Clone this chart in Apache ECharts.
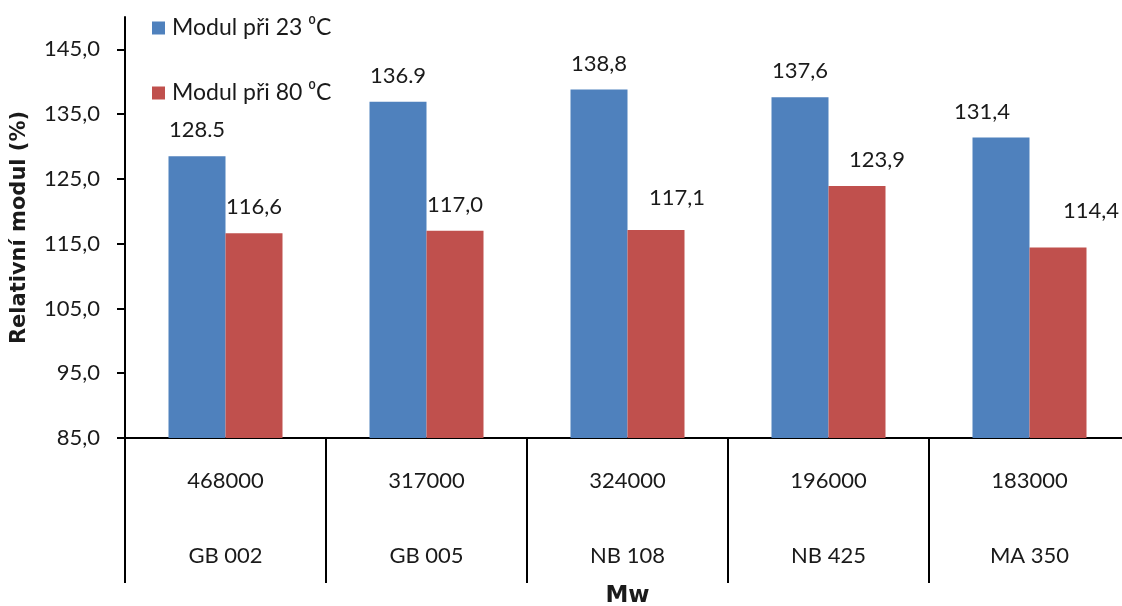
<!DOCTYPE html>
<html>
<head>
<meta charset="utf-8">
<script src="https://cdn.jsdelivr.net/npm/echarts@6/dist/echarts.min.js"></script>
<style>
  html, body { margin: 0; padding: 0; background: #fff; }
  #chart { width: 1122px; height: 606px; }
</style>
</head>
<body>
<div id="chart"></div>
<script>
// Samples and their molecular weight
const sampleNames = ['GB 002', 'GB 005', 'NB 108', 'NB 425', 'MA 350'];
const mwValues = ['468000', '317000', '324000', '196000', '183000'];

// Relative modulus (%) as printed above each bar
const labels23 = ['128.5', '136.9', '138,8', '137,6', '131,4'];
const labels80 = ['116,6', '117,0', '117,1', '123,9', '114,4'];
const values23 = labels23.map(s => parseFloat(s.replace(',', '.')));
const values80 = labels80.map(s => parseFloat(s.replace(',', '.')));

// Y axis ticks
const yTicks = [85, 95, 105, 115, 125, 135, 145];

// Hand-placed label nudges [dx, dy]
const nudge23 = [[0, 0], [0, 0], [0, 0], [0, 0], [-19, 0]];
const nudge80 = [[0, 0], [0, 0], [21, -6], [20, 0], [33, -11]];

const FONT = 'Lato';
const BOLD_FONT = 'DejaVu Sans';
const TXT = '#1a1a1a';

function buildData(vals, texts, nudges) {
  return vals.map((v, i) => ({
    value: v,
    label: { formatter: texts[i], offset: nudges[i] }
  }));
}

const barLabel = {
  show: true,
  position: 'top',
  distance: 15,
  fontFamily: FONT,
  fontSize: 22,
  lineHeight: 22,
  color: TXT
};

const chart = echarts.init(document.getElementById('chart'), null, { renderer: 'canvas' });
chart.setOption({
  animation: false,
  backgroundColor: '#ffffff',
  grid: {
    left: 125, right: -8, top: 17, bottom: 168,
    containLabel: false,
    outerBoundsMode: 'none'
  },
  legend: {
    orient: 'vertical',
    left: 152,
    top: 15,
    padding: 0,
    itemWidth: 13,
    itemHeight: 13,
    itemGap: 39,
    icon: 'rect',
    textStyle: { fontFamily: FONT, fontSize: 23, lineHeight: 26, color: TXT, padding: [0, 0, 0, 2] },
    data: ['Modul při 23 ⁰C', 'Modul při 80 ⁰C']
  },
  xAxis: {
    type: 'category',
    data: sampleNames,
    name: 'Mw',
    nameLocation: 'middle',
    nameGap: 147,
    nameTextStyle: { fontFamily: BOLD_FONT, fontSize: 23, fontWeight: 'bold', color: TXT },
    axisLine: { show: true, lineStyle: { color: '#000', width: 2 } },
    axisTick: { show: true, interval: 0, length: 145, lineStyle: { color: '#000', width: 2 } },
    axisLabel: {
      interval: 0,
      margin: 5,
      formatter: (v, i) => '{mw|' + mwValues[i] + '}\n{nm|' + v + '}',
      rich: {
        mw: { fontFamily: FONT, fontSize: 22, lineHeight: 75, color: TXT },
        nm: { fontFamily: FONT, fontSize: 22, lineHeight: 75, color: TXT }
      }
    },
    splitLine: { show: false }
  },
  yAxis: {
    type: 'value',
    min: 85,
    max: 150,
    interval: 10,
    name: 'Relativní modul (%)',
    nameLocation: 'middle',
    nameGap: 95,
    nameTextStyle: { fontFamily: BOLD_FONT, fontSize: 21, fontWeight: 'bold', color: TXT },
    axisLine: { show: true, lineStyle: { color: '#000', width: 2 } },
    axisTick: { show: true, length: 8, customValues: yTicks, lineStyle: { color: '#000', width: 2 } },
    axisLabel: {
      customValues: yTicks,
      margin: 25,
      fontFamily: FONT,
      fontSize: 22,
      color: TXT,
      formatter: v => v.toFixed(1).replace('.', ',')
    },
    splitLine: { show: false }
  },
  series: [
    {
      name: 'Modul při 23 ⁰C',
      type: 'bar',
      barWidth: 57,
      barGap: '0%',
      itemStyle: { color: '#4F81BD' },
      label: barLabel,
      data: buildData(values23, labels23, nudge23)
    },
    {
      name: 'Modul při 80 ⁰C',
      type: 'bar',
      barWidth: 57,
      barGap: '0%',
      itemStyle: { color: '#C0504D' },
      label: barLabel,
      data: buildData(values80, labels80, nudge80)
    }
  ]
});
</script>
</body>
</html>
